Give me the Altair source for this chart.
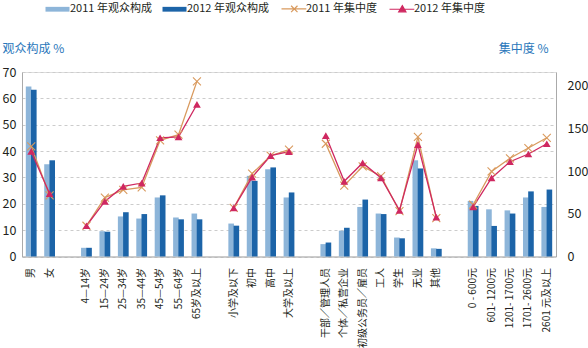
import altair as alt
import pandas as pd

categories = ["男", "女", " ", "4—14岁", "15—24岁", "25—34岁", "35—44岁", "45—54岁", "55—64岁",
              "65岁及以上", "  ", "小学及以下", "初中", "高中", "大学及以上", "   ",
              "干部／管理人员", "个体／私营企业", "初级公务员／雇员", "工人", "学生", "无业", "其他",
              "    ", "0 - 600元", "601- 1200元", "1201- 1700元", "1701- 2600元", "2601 元及以上"]
labels = [c for c in categories if c.strip()]
groups = ["sex"] * 2 + ["age"] * 7 + ["edu"] * 4 + ["job"] * 7 + ["income"] * 5

comp_2011 = [64.5, 35.0, 3.3, 9.6, 15.2, 14.4, 22.4, 14.8, 16.3, 12.5, 30.6, 33.1, 22.4,
             4.7, 9.8, 18.8, 16.3, 7.2, 36.5, 3.1, 21.1, 17.9, 17.5, 22.4, 18.8]
comp_2012 = [63.3, 36.5, 3.3, 9.4, 16.8, 16.1, 23.2, 14.1, 14.1, 11.7, 28.7, 33.8, 24.3,
             5.3, 10.9, 21.6, 16.1, 6.9, 33.4, 2.9, 19.2, 11.6, 16.3, 24.7, 25.4]
conc_2011 = [129, 71.5, 36, 69, 78, 81, 136, 142.7, 205, 57, 97, 118, 125,
             132, 83, 105.5, 94, 53, 140, 45, 60.6, 99.6, 115, 127, 139]
conc_2012 = [123, 73.5, 36, 64.5, 82, 86, 139, 140, 178, 57, 93, 118, 122.7,
             141.5, 88, 109.5, 92, 54, 131, 46, 58, 92, 111, 120, 132]

S_C11, S_C12, S_K11, S_K12 = "2011 年观众构成", "2012 年观众构成", "2011 年集中度", "2012 年集中度"
series_names = [S_C11, S_C12, S_K11, S_K12]
series_colors = ["#8db5d9", "#1c64a8", "#d99a5e", "#cf2860"]

FONT = "Noto Sans CJK SC"
n = len(labels)
bars = pd.DataFrame({"cat": labels * 2, "series": [S_C11] * n + [S_C12] * n,
                     "v": comp_2011 + comp_2012})
lines = pd.DataFrame({"cat": labels * 2, "series": [S_K11] * n + [S_K12] * n,
                      "v": conc_2011 + conc_2012, "grp": groups * 2,
                      "idx": list(range(n)) * 2})

shape_expr = (
    f"datum.value === '{S_K11}' ? 'M-1,0H2.1M0.2,-0.4L1,0.4M0.2,0.4L1,-0.4' : "
    f"(datum.value === '{S_K12}' ? 'M-1,0H2.1M0.6,-0.45L1.05,0.32H0.15Z' : 'M-1,-0.3H2V0.3H-1Z')"
)
sw_expr = f"(datum.value === '{S_K11}' || datum.value === '{S_K12}') ? 1.2 : 0"

legend = alt.Legend(
    orient="none", legendX=26, legendY=-69, direction="horizontal", title=None,
    symbolSize=256, labelOffset=11, columnPadding=10, labelFontSize=11,
    labelFont=FONT, labelColor="#231f20", padding=0,
    symbolType={"expr": shape_expr},
    symbolFillColor={"expr": "scale('color', datum.value)"},
    symbolStrokeColor={"expr": "scale('color', datum.value)"},
    symbolStrokeWidth={"expr": sw_expr},
    symbolOpacity=1,
)
color = alt.Color("series:N", scale=alt.Scale(domain=series_names, range=series_colors),
                  legend=legend)

x = alt.X("cat:N", sort=categories,
          scale=alt.Scale(domain=categories, paddingInner=0, paddingOuter=0),
          axis=alt.Axis(title=None, labelAngle=-90, labelPadding=11, labelFontSize=10,
                        labelFont=FONT, labelColor="#231f20", ticks=False, tickSize=0,
                        domainColor="#aaaaaa", grid=False, labelOverlap=False, labelLimit=200))

y_left = alt.Y("v:Q", scale=alt.Scale(domain=[0, 70], nice=False),
               axis=alt.Axis(values=list(range(0, 71, 10)), title="观众构成 %", titleAngle=0,
                             titleAlign="left", titleBaseline="middle", titleX=-20, titleY=-24,
                             titleColor="#2a77bb", titleFontSize=12, titleFontWeight="normal",
                             titleFont=FONT, labelFont=FONT, labelFontSize=12.5,
                             labelColor="#231f20", labelPadding=6, ticks=False, tickSize=0,
                             domainColor="#aaaaaa", grid=True, gridDash=[3, 3],
                             gridColor="#cccccc"))
axis_right = alt.Axis(values=[0, 50, 100, 150, 200], orient="right", title="集中度 %",
                      titleAngle=0, titleAlign="right", titleBaseline="middle", titleX=-8,
                      titleY=-24, titleColor="#2a77bb", titleFontSize=12,
                      titleFontWeight="normal", titleFont=FONT, labelFont=FONT,
                      labelFontSize=12.5, labelColor="#231f20", labelPadding=11,
                      ticks=False, tickSize=0, domainColor="#aaaaaa", grid=False)
y_right = alt.Y("v:Q", scale=alt.Scale(domain=[0, 216], nice=False), axis=axis_right)

base_b = alt.Chart(bars)
bar11 = base_b.transform_filter(alt.datum.series == S_C11).mark_bar(
    size=5.6, xOffset=-2.6).encode(x=x, y=y_left, color=color)
bar12 = base_b.transform_filter(alt.datum.series == S_C12).mark_bar(
    size=5.6, xOffset=2.6).encode(x=x, y=y_left, color=color)

base_l = alt.Chart(lines)
line = base_l.mark_line(strokeWidth=1.3).encode(
    x=x, y=y_right, color=color, detail="grp:N", order="idx:Q")
pt11 = base_l.transform_filter(alt.datum.series == S_K11).mark_point(
    shape="M-1,-1L1,1M-1,1L1,-1", size=64, filled=False, strokeWidth=1.1, opacity=1
).encode(x=x, y=y_right, color=color)
pt12 = base_l.transform_filter(alt.datum.series == S_K12).mark_point(
    shape="triangle-up", size=60, filled=True, opacity=1
).encode(x=x, y=y_right, color=color)

chart = alt.layer(
    alt.layer(bar11, bar12),
    alt.layer(line, pt11, pt12),
).resolve_scale(y="independent").properties(
    width=534, height=184.5,
    padding={"left": 22, "top": 72, "right": 32, "bottom": 91.5},
    autosize=alt.AutoSizeParams(type="none"),
).configure_view(stroke=None).configure(font=FONT)

chart.save("out.html", embed_options={"renderer": "svg", "actions": False})
